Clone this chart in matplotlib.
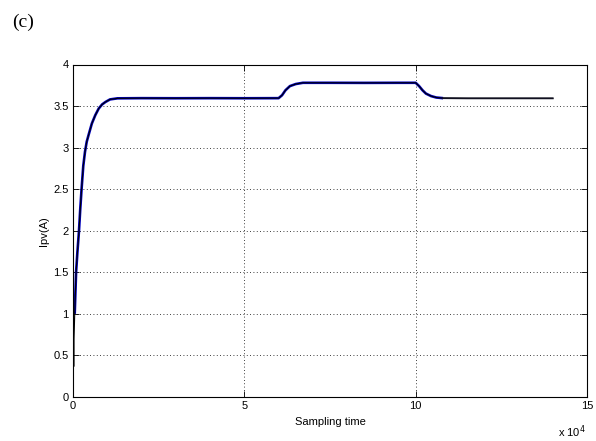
import matplotlib
matplotlib.use("Agg")
import matplotlib.pyplot as plt

# values (x in units of 1e4 samples)
t_blue = [0.0, 0.03, 0.03, 0.05, 0.09, 0.13, 0.175, 0.21, 0.25, 0.3, 0.35, 0.4, 0.46,
          0.55, 0.65, 0.75, 0.85, 0.95, 1.08, 1.3, 2.0, 3.0, 4.0, 5.0, 6.0, 6.1, 6.2, 6.33,
          6.5, 6.71, 7.5, 8.5, 9.5, 10.0, 10.1, 10.2, 10.3, 10.45, 10.6, 10.8]
i_blue = [0.37, 0.37, 0.7, 1.0, 1.5, 1.75, 2.0, 2.25, 2.5, 2.78, 2.95, 3.07, 3.16,
          3.29, 3.39, 3.47, 3.52, 3.55, 3.58, 3.593, 3.595, 3.594, 3.595, 3.594, 3.595, 3.63, 3.69, 3.74,
          3.765, 3.78, 3.78, 3.779, 3.78, 3.78, 3.74, 3.69, 3.65, 3.62, 3.603, 3.595]
t_black = t_blue + [11.5, 12.5, 14.0]
i_black = i_blue + [3.593, 3.593, 3.593]

xticks = [0, 5, 10, 15]
yticks = [0, 0.5, 1, 1.5, 2, 2.5, 3, 3.5, 4]

plt.rcParams['font.family'] = ['Liberation Sans', 'DejaVu Sans']

fig = plt.figure(figsize=(5.96, 4.41), dpi=100)
ax = fig.add_axes([73/596, 1-397/441, (587-73)/596, (397-64.5)/441])

ax.plot(t_blue[3:], i_blue[3:], color='#0000c0', lw=1.9, solid_capstyle='butt')
ax.plot(t_black, i_black, color='black', lw=0.8)
ax.plot(t_black[-4:], i_black[-4:], color='#101020', lw=1.3)

ax.set_xlim(0, 15)
ax.set_ylim(0, 4)
ax.set_xticks(xticks)
ax.set_yticks(yticks)
ax.set_yticklabels(['0', '0.5', '1', '1.5', '2', '2.5', '3', '3.5', '4'])
ax.grid(True, color='black', linestyle=(0, (1, 3)), lw=0.6)
ax.tick_params(direction='in', top=True, right=True, labelsize=8, length=4, width=0.6, pad=3)
for s in ax.spines.values():
    s.set_linewidth(0.8)
ax.set_xlabel('Sampling time', fontsize=8, labelpad=4)
ax.set_ylabel('Ipv(A)', fontsize=8, labelpad=3)

fig.text(572/596, 1-432/441, r'x 10$^{4}$', fontsize=8, ha='center', va='center')
fig.text(12/596, 1-22/441, '(c)', fontsize=14, family='Liberation Serif', ha='left', va='center')

fig.savefig('out.png', dpi=100)
